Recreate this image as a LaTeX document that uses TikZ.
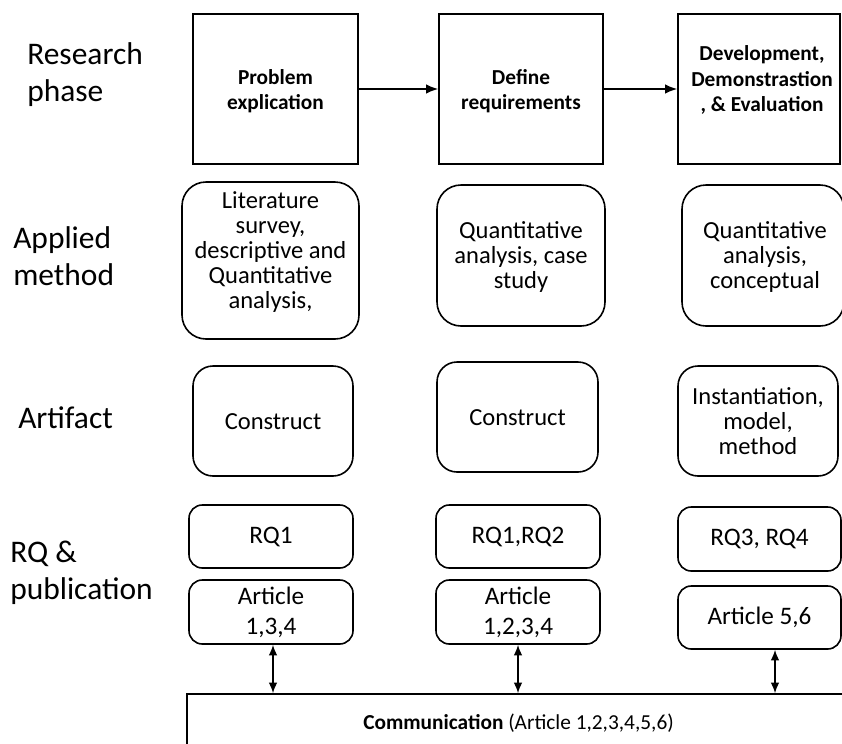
\documentclass[tikz,border=0pt]{standalone}
\usepackage{fontspec}
\setmainfont{Carlito}
\usetikzlibrary{arrows.meta,fit,calc}
\begin{document}
\begin{tikzpicture}[x=0.75pt,y=-0.75pt,
  frame/.style={draw,line width=1.2pt,inner sep=0pt},
  phasebox/.style={frame},
  methodbox/.style={frame,rounded corners=18pt},
  artbox/.style={frame,rounded corners=15pt},
  pubbox/.style={frame,rounded corners=10pt},
  rowlabel/.style={anchor=west,align=left,inner sep=0pt,
    font=\fontsize{23.6}{27.8}\selectfont},
  phasetext/.style={align=center,inner sep=0pt,
    font=\fontsize{16}{19}\bfseries\selectfont},
  celltext/.style={align=center,inner sep=0pt,
    font=\fontsize{18.4}{18.8}\selectfont},
  pubtext/.style={align=center,inner sep=0pt,
    font=\fontsize{18.9}{22.5}\selectfont},
  flow/.style={line width=1.1pt,-{Latex[length=9pt,width=7pt]}},
  link/.style={line width=1.1pt,{Latex[length=8pt,width=6.5pt]}-{Latex[length=8pt,width=6.5pt]}}
]
\useasboundingbox (0,0) rectangle (842,743);
\clip (0,0) rectangle (842,743);

% row labels
\node[rowlabel] (lphase) at (27,75) {Research\\phase};
\node[rowlabel] (lmethod) at (13,256) {Applied\\method};
\node[rowlabel] (lart) at (18,418) {Artifact};
\node[rowlabel] (lrq) at (10,573) {RQ \&\\publication};

% research phases
\node[phasebox,fit={(193,14) (358,164)}] (p1) {};
\node[phasebox,fit={(439,14) (603,164)}] (p2) {};
\node[phasebox,fit={(678,14) (840,164)}] (p3) {};
\node[phasetext] (t1) at (275.5,91) {Problem\\explication};
\node[phasetext] (t2) at (521,91) {Define\\requirements};
\node[phasetext] (t3) at (762,80) {Development,\\Demonstrastion\\, \& Evaluation};
\draw[flow] (p1) -- (p2);
\draw[flow] (p2) -- (p3);

% applied methods
\node[methodbox,fit={(182,182) (359,339)}] (m1) {};
\node[methodbox,fit={(437,185) (605,326)}] (m2) {};
\node[methodbox,fit={(682,185) (844,326)}] (m3) {};
\node[celltext] (u1) at (270.5,252) {Literature\\survey,\\descriptive and\\Quantitative\\analysis,};
\node[celltext] (u2) at (521,257) {Quantitative\\analysis, case\\study};
\node[celltext] (u3) at (765,257) {Quantitative\\analysis,\\conceptual};

% artifacts
\node[artbox,fit={(193,366) (353,476)}] (a1) {};
\node[artbox,fit={(437,362) (598,472)}] (a2) {};
\node[artbox,fit={(678,366) (838,476)}] (a3) {};
\node[celltext] (v1) at (273,422) {Construct};
\node[celltext] (v2) at (517.5,418) {Construct};
\node[celltext] (v3) at (758,421) {Instantiation,\\model,\\method};

% research questions
\node[pubbox,fit={(189,505) (353,568)}] (q1) {};
\node[pubbox,fit={(436,505) (600,568)}] (q2) {};
\node[pubbox,fit={(678,507) (841,571)}] (q3) {};
\node[pubtext] (w1) at (271,537) {RQ1};
\node[pubtext] (w2) at (518,537) {RQ1,RQ2};
\node[pubtext] (w3) at (759.5,539) {RQ3, RQ4};

% publications
\node[pubbox,fit={(189,580) (353,644)}] (r1) {};
\node[pubbox,fit={(436,580) (600,644)}] (r2) {};
\node[pubbox,fit={(678,586) (841,649)}] (r3) {};
\node[pubtext] (x1) at (271,612) {Article\\1,3,4};
\node[pubtext] (x2) at (518,612) {Article\\1,2,3,4};
\node[pubtext] (x3) at (759.5,617.5) {Article 5,6};

% communication
\node[phasebox,fit={(187,694) (851,760)}] (comm) {};
\node[inner sep=0pt,font=\fontsize{16}{19}\selectfont] (ctext) at (518.5,723)
  {\textbf{Communication} (Article 1,2,3,4,5,6)};

\coordinate (c1) at (r1.south -| 273,0);
\coordinate (c2) at (r2.south -| 518,0);
\coordinate (c3) at (r3.south -| 775,0);
\draw[link] (c1) -- (c1 |- comm.north);
\draw[link] (c2) -- (c2 |- comm.north);
\draw[link] (c3) -- (c3 |- comm.north);
\end{tikzpicture}
\end{document}
